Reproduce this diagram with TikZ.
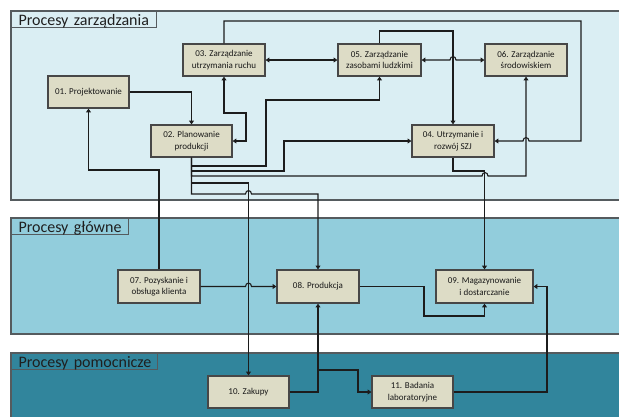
\documentclass[tikz,border=0pt]{standalone}
\usepackage{fontspec}
\setmainfont{Carlito}
\usetikzlibrary{arrows.meta}
\definecolor{paneltop}{HTML}{DAEEF3}
\definecolor{panelmid}{HTML}{92CDDC}
\definecolor{panelbot}{HTML}{31859C}
\definecolor{boxfill}{HTML}{DDDCC6}
\definecolor{boxline}{HTML}{474747}
\definecolor{wire}{HTML}{1C1C1C}
\definecolor{frame}{HTML}{555B5E}
\begin{document}
\begin{tikzpicture}[x=1pt,y=-1pt,
 proc/.style={draw=boxline, line width=1.2pt, fill=boxfill, align=center, inner sep=0pt, font=\fontsize{9}{11.5}\selectfont, text=black!90},
 panel/.style={draw=frame, line width=1.4pt},
 ttl/.style={draw=frame, line width=1pt, anchor=north west, inner xsep=7pt, inner ysep=0pt, text height=13.5pt, text depth=2.5pt, minimum height=16pt, align=left, font=\fontsize{16}{18}\selectfont, text=black!88},
 wr/.style={draw=wire, line width=1.1pt},
 arr/.style={wr, -{Triangle[length=3.8pt,width=4.8pt]}},
 barr/.style={wr, {Triangle[length=3.8pt,width=4.8pt]}-{Triangle[length=3.8pt,width=4.8pt]}},
]
\clip (0,0) rectangle (619,416);
\fill[white] (0,0) rectangle (619,416);
% panels
\draw[panel, fill=paneltop] (11,11) rectangle (630,200);
\draw[panel, fill=panelmid] (11,218) rectangle (630,334);
\draw[panel, fill=panelbot] (11,353) rectangle (630,430);
% titles
\node[ttl, fill=paneltop, text width=131pt] (tz) at (11,11) {\mbox{Procesy zarządzania}};
\node[ttl, fill=panelmid, text width=103pt] (tg) at (11,218) {\mbox{Procesy główne}};
\node[ttl, fill=panelbot, text width=132pt] (tp) at (11,353) {\mbox{Procesy pomocnicze}};
% process boxes
\node[proc, minimum width=81pt, minimum height=32pt] (p01) at (88.5,92) {01. Projektowanie};
\node[proc, minimum width=81pt, minimum height=32pt] (p02) at (191.5,141) {02. Planowanie\\produkcji};
\node[proc, minimum width=82pt, minimum height=32pt] (p03) at (224,60) {03. Zarządzanie\\utrzymania ruchu};
\node[proc, minimum width=83pt, minimum height=32pt] (p05) at (379.5,60) {05. Zarządzanie\\zasobami ludzkimi};
\node[proc, minimum width=82pt, minimum height=32pt] (p06) at (526,60) {06. Zarządzanie\\środowiskiem};
\node[proc, minimum width=82pt, minimum height=32pt] (p04) at (453,141) {04. Utrzymanie i\\rozwój SZJ};
\node[proc, minimum width=82pt, minimum height=33pt] (p07) at (159,286.5) {07. Pozyskanie i\\obsługa klienta};
\node[proc, minimum width=82pt, minimum height=33pt] (p08) at (318,286.5) {08. Produkcja};
\node[proc, minimum width=97pt, minimum height=33pt] (p09) at (484.5,286.5) {09. Magazynowanie\\i dostarczanie};
\node[proc, minimum width=81pt, minimum height=32pt] (p10) at (248.5,392) {10. Zakupy};
\node[proc, minimum width=81pt, minimum height=32pt] (p11) at (412.5,392) {11. Badania\\laboratoryjne};
% connectors
\draw[arr] (p01.east) -| (p02.north);
\draw[barr] (p02.east) -| (246,113) -| (p03.south);
\draw[arr] (p07.north) |- (88.5,170) -- (p01.south);
\draw[arr] (p02.south) |- (266,166) -- (266,100) -| (p05.south);
\draw[arr] (p02.south) |- (284,171) |- (p04.west);
\draw[arr] (p02.south) |- (482,176) .. controls (482,171.5) and (488,171.5) .. (488,176) -| (p06.south);
\draw[arr] (p02.south) |- (248.5,183) -- (p10.north);
\draw[arr] (p02.south) |- (245.5,194) .. controls (245.5,189.5) and (251.5,189.5) .. (251.5,194) -| (p08.north);
\draw[arr] (p04.south) |- (484.5,171) -- (p09.north);
\draw[arr] (p03.north) |- (581,21) |- (529,141) .. controls (529,136.5) and (523,136.5) .. (523,141) -- (p04.east);
\draw[arr] (p05.north) |- (453,31) -- (p04.north);
\draw[barr] (p03.east) -- (p05.west);
\draw[barr] (p05.east) -- (450,60) .. controls (450,55.5) and (456,55.5) .. (456,60) -- (p06.west);
\draw[arr] (p07.east) -- (245.5,286.5) .. controls (245.5,282) and (251.5,282) .. (251.5,286.5) -- (p08.west);
\draw[arr] (p08.east) -| (424,316) -| (p09.south);
\draw[arr] (p10.east) -| (p08.south);
\coordinate (j1) at (318,370);
\draw[arr] (j1) -| (358,392) -- (p11.west);
\draw[arr] (p11.east) -| (547,286.5) -- (p09.east);
\end{tikzpicture}
\end{document}
